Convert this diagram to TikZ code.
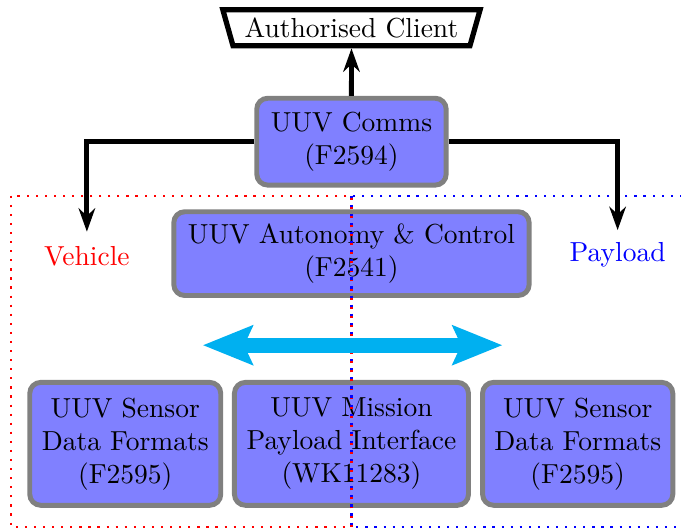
\documentclass[tikz,border=0pt]{standalone}
\usepackage{tikz}
\usetikzlibrary{arrows.meta,shapes.geometric}
\definecolor{arrowcyan}{RGB}{0,176,240}
\tikzset{%
  block/.style={
    draw=gray,
    fill=blue!50,
    line width=1.8pt,
    rounded corners=4pt,
    align=center,
    inner sep=2pt
  },
  client/.style={
    draw,
    line width=1.9pt,
    trapezium,
    shape border rotate=180,
    trapezium left angle=70,
    trapezium right angle=70,
    trapezium stretches=true,
    minimum width=3.31cm,
    minimum height=0.46cm,
    inner sep=1pt
  },
  link/.style={
    line width=1.8pt,
    -{Stealth[length=8.5pt,width=6pt]}
  },
  zone/.style={
    line width=0.8pt,
    dash pattern=on 0.8pt off 2.5pt
  },
}

\begin{document}
\begin{tikzpicture}
  \useasboundingbox (0,0) rectangle (8.70,-6.76);
  % boxes
  \node[client] (client) at (4.49,-0.355) {Authorised Client};
  \node[block, minimum width=2.42cm, minimum height=1.11cm] (comms) at (4.49,-1.81) {UUV Comms\\(F2594)};
  \node[block, minimum width=4.54cm, minimum height=1.07cm] (auto) at (4.49,-3.24) {UUV Autonomy \& Control\\(F2541)};
  \node[block, minimum width=2.44cm, minimum height=1.57cm] (sensorL) at (1.60,-5.67) {UUV Sensor\\Data Formats\\(F2595)};
  \node[block, minimum width=2.99cm, minimum height=1.57cm] (mission) at (4.49,-5.67) {UUV Mission\\Payload Interface\\(WK11283)};
  \node[block, minimum width=2.43cm, minimum height=1.57cm] (sensorR) at (7.38,-5.67) {UUV Sensor\\Data Formats\\(F2595)};
  \node[text=red] (vehicle) at (1.11,-3.28) {Vehicle};
  \node[text=blue] (payload) at (7.89,-3.25) {Payload};
  % zones
  \foreach \c/\l/\r in {red/0.14/4.49, blue/4.49/8.75}
    \draw[zone, \c] (\l,-2.50) rectangle (\r,-6.73);
  % links
  \coordinate (vehL) at (1.11,-2.96);
  \coordinate (payL) at (7.89,-2.94);
  \draw[link] (comms.north) -- (client.south);
  \draw[link] (comms.west) -| (vehL);
  \draw[link] (comms.east) -| (payL);
  \coordinate (exL) at (2.59,-4.41);
  \coordinate (exR) at (6.42,-4.41);
  \draw[arrowcyan, line width=5.5pt,
        {Stealth[length=18pt,width=14pt,inset=3pt]}-{Stealth[length=18pt,width=14pt,inset=3pt]}] (exL) -- (exR);
\end{tikzpicture}
\end{document}
